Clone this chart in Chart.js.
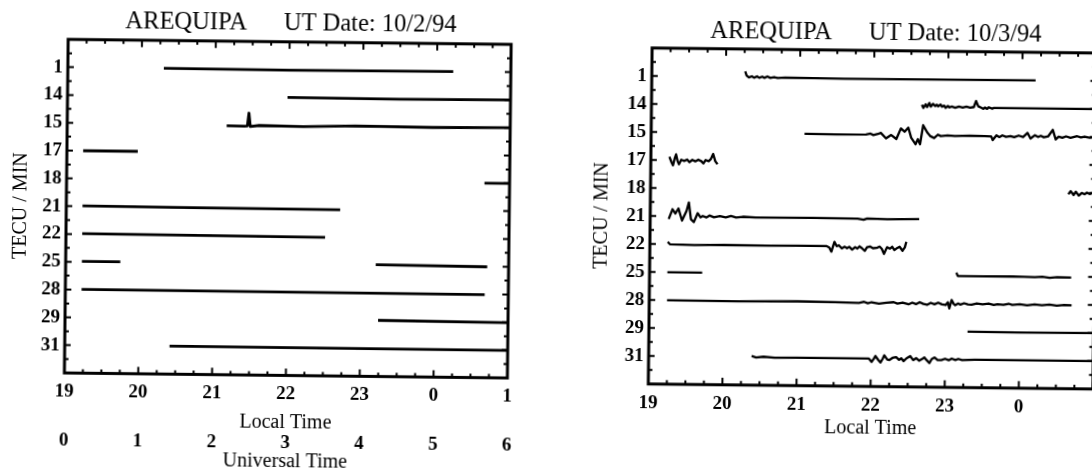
<!DOCTYPE html>
<html>
<head>
<meta charset="utf-8">
<script src="https://cdn.jsdelivr.net/npm/chart.js@4/dist/chart.umd.min.js"></script>
<style>
html,body{margin:0;padding:0;background:#fff;overflow:hidden;width:1092px;height:468px;}
#wrap{position:absolute;left:0;top:0;width:1092px;height:468px;transform:rotate(0.65deg);transform-origin:546px 234px;}
#c1{position:absolute;left:0;top:0;}
#c2{position:absolute;left:546px;top:0;}
</style>
</head>
<body>
<div id="wrap">
<canvas id="c1" width="546" height="490"></canvas>
<canvas id="c2" width="570" height="490"></canvas>
</div>
<script>
// ---- categories / tick labels ----
const PRN_LABELS = ['1','14','15','17','18','21','22','25','28','29','31'];
const LOCAL_TICKS = [19,20,21,22,23,24,25];
const LOCAL_TICK_LABELS = ['19','20','21','22','23','0','1'];
const LOCAL_TICKS_R = [19,20,21,22,23,24];
const LOCAL_TICK_LABELS_R = ['19','20','21','22','23','0'];
const UT_TICKS = [0,1,2,3,4,5,6];
const UT_TICK_LABELS = ['0','1','2','3','4','5','6'];
const TITLE_OCT2 = 'AREQUIPA      UT Date: 10/2/94';
const TITLE_OCT3 = 'AREQUIPA      UT Date: 10/3/94';

// ---- 10/2/94 : [local time (h, 25 = 01 LT), TECU/min offset] ----
const oct2_prn1  = [[20.30,0.00],[22.0,0.02],[24.22,0.00]];
const oct2_prn14 = [[21.98,0.00],[23.5,0.02],[25.00,0.00]];
const oct2_prn15 = [[21.16,0.04],[21.40,0.05],[21.44,0.04],[21.46,-0.42],[21.48,0.06],[21.60,0.02],[22.20,0.04],[22.90,0.00],[23.95,0.02],[25.00,0.00]];
const oct2_prn17 = [[19.22,0.00],[19.96,0.00]];
const oct2_prn18 = [[24.66,0.00],[25.00,0.00]];
const oct2_prn21 = [[19.22,-0.02],[20.50,0.00],[22.71,0.02]];
const oct2_prn22 = [[19.22,-0.02],[22.51,0.02]];
const oct2_prn25 = [[19.22,-0.02],[19.74,-0.02],[19.80,null],[23.20,-0.02],[24.71,0.01]];
const oct2_prn28 = [[19.22,-0.01],[24.68,0.01]];
const oct2_prn29 = [[23.24,-0.02],[25.00,0.01]];
const oct2_prn31 = [[20.42,-0.01],[25.00,0.01]];

// ---- 10/3/94 ----
const oct3_prn1  = [[20.26,-0.20],[20.28,-0.05],[20.31,0.01],[20.35,-0.03],[20.38,0.02],[20.42,-0.03],[20.45,0.02],[20.49,-0.02],[20.52,0.02],[20.56,-0.03],[20.60,0.02],[20.65,-0.01],[20.70,0.02],[20.80,0.00],[21.60,0.02],[24.18,0.00]];
const oct3_prn14 = [[22.65,-0.08],[22.67,0.03],[22.70,-0.10],[22.72,0.00],[22.75,-0.15],[22.77,-0.02],[22.80,-0.12],[22.83,-0.04],[22.85,-0.09],[22.87,-0.03],[22.90,-0.10],[22.92,-0.02],[22.95,-0.06],[22.97,0.02],[23.00,-0.05],[23.02,0.00],[23.05,-0.03],[23.10,0.01],[23.15,-0.03],[23.20,0.00],[23.25,-0.03],[23.30,0.00],[23.35,-0.02],[23.38,-0.24],[23.41,-0.05],[23.45,0.00],[23.48,0.04],[23.50,-0.01],[23.53,0.04],[23.55,-0.02],[23.60,0.03],[23.62,0.00],[23.66,0.00],[25.00,0.00]];
const oct3_prn15 = [[21.07,0.00],[21.50,0.01],[21.90,0.00],[21.96,-0.03],[22.00,0.02],[22.06,-0.02],[22.10,-0.06],[22.17,0.13],[22.24,0.01],[22.31,0.15],[22.37,-0.23],[22.42,-0.11],[22.47,-0.26],[22.51,0.10],[22.57,0.33],[22.60,0.15],[22.63,0.33],[22.67,-0.35],[22.73,-0.08],[22.77,0.04],[22.82,0.10],[22.87,-0.02],[22.91,0.03],[23.00,0.00],[23.10,0.02],[23.30,0.00],[23.50,0.01],[23.59,0.02],[23.61,0.15],[23.66,-0.02],[23.70,0.04],[23.74,-0.02],[23.79,0.03],[23.85,0.00],[23.90,0.04],[23.96,-0.02],[24.02,0.03],[24.08,-0.12],[24.12,0.08],[24.18,-0.04],[24.22,0.02],[24.26,-0.02],[24.30,0.03],[24.36,-0.01],[24.42,-0.24],[24.46,0.10],[24.50,0.00],[24.55,0.04],[24.60,-0.01],[24.66,0.04],[24.75,-0.02],[24.80,0.02],[24.85,-0.01],[24.92,0.03],[25.00,0.00]];
const oct3_prn17 = [[19.25,-0.12],[19.28,0.08],[19.30,0.18],[19.32,-0.05],[19.34,-0.21],[19.36,0.02],[19.38,0.14],[19.41,-0.02],[19.45,0.02],[19.49,-0.03],[19.52,0.06],[19.56,-0.02],[19.60,0.03],[19.64,-0.03],[19.68,0.02],[19.71,0.10],[19.74,-0.02],[19.78,0.02],[19.81,-0.06],[19.84,-0.24],[19.87,0.02],[19.90,0.12]];
const oct3_prn18 = [[24.64,0.06],[24.67,-0.06],[24.71,0.08],[24.74,-0.04],[24.78,0.10],[24.82,0.00],[24.86,0.05],[24.89,-0.01],[24.93,0.04],[24.96,0.00],[25.00,0.02]];
const oct3_prn21 = [[19.25,0.10],[19.30,-0.25],[19.34,-0.10],[19.38,-0.28],[19.43,0.15],[19.49,-0.20],[19.52,-0.50],[19.55,0.10],[19.59,0.20],[19.64,-0.12],[19.68,0.03],[19.71,-0.02],[19.76,0.03],[19.80,-0.04],[19.86,0.02],[19.94,-0.02],[20.02,0.02],[20.09,-0.03],[20.16,0.02],[20.25,-0.01],[20.42,0.01],[21.20,0.00],[21.80,0.01],[21.88,0.05],[21.93,0.00],[22.20,0.02],[22.63,0.00]];
const oct3_prn22 = [[19.24,-0.08],[19.27,0.00],[19.60,0.02],[20.00,0.00],[20.60,0.01],[21.00,0.00],[21.38,0.00],[21.42,0.05],[21.45,0.20],[21.49,-0.15],[21.52,0.00],[21.55,-0.03],[21.59,0.08],[21.63,0.02],[21.66,0.07],[21.69,0.02],[21.73,0.12],[21.77,0.03],[21.80,0.08],[21.83,0.00],[21.86,0.06],[21.90,0.16],[21.93,0.03],[21.97,0.00],[22.01,0.06],[22.06,0.05],[22.10,0.00],[22.13,0.08],[22.16,0.26],[22.20,0.02],[22.24,0.07],[22.27,0.00],[22.30,0.12],[22.34,0.04],[22.37,0.00],[22.41,0.14],[22.44,0.02],[22.46,-0.18]];
const oct3_prn25 = [[19.24,0.00],[19.71,0.00],[19.80,null],[23.14,-0.10],[23.16,0.02],[23.50,0.02],[23.90,0.01],[24.20,0.03],[24.30,0.01],[24.40,0.05],[24.50,0.02],[24.69,0.03]];
const oct3_prn28 = [[19.24,0.00],[20.20,0.01],[21.00,-0.01],[21.50,0.00],[21.83,0.02],[21.90,-0.02],[21.95,0.03],[22.00,-0.01],[22.10,0.04],[22.20,0.00],[22.30,-0.02],[22.35,0.03],[22.42,-0.01],[22.50,0.05],[22.55,-0.01],[22.60,0.04],[22.65,-0.03],[22.70,0.03],[22.75,0.06],[22.80,-0.01],[22.85,0.04],[22.90,-0.02],[22.95,0.04],[23.00,0.06],[23.03,-0.04],[23.05,0.18],[23.08,-0.12],[23.11,0.02],[23.13,0.06],[23.17,0.00],[23.20,0.04],[23.25,-0.01],[23.30,0.03],[23.35,0.04],[23.42,-0.01],[23.50,0.02],[23.58,-0.01],[23.65,0.04],[23.70,0.01],[23.78,0.03],[23.85,-0.01],[23.90,0.03],[24.00,0.00],[24.10,0.04],[24.20,0.00],[24.30,0.03],[24.40,0.00],[24.50,0.04],[24.60,0.01],[24.70,0.02]];
const oct3_prn29 = [[23.30,0.00],[24.00,0.01],[25.00,0.00]];
const oct3_prn31 = [[20.39,-0.04],[20.45,0.01],[20.55,-0.02],[20.70,0.01],[21.00,0.00],[21.50,0.00],[21.97,0.00],[22.01,0.12],[22.04,0.00],[22.06,-0.09],[22.10,0.05],[22.13,0.14],[22.16,0.00],[22.18,-0.12],[22.22,0.03],[22.25,0.05],[22.29,-0.03],[22.34,-0.06],[22.38,0.04],[22.41,-0.02],[22.44,0.08],[22.48,-0.02],[22.53,-0.10],[22.57,0.04],[22.61,-0.03],[22.65,0.06],[22.69,0.00],[22.72,-0.06],[22.75,0.03],[22.79,0.14],[22.82,0.00],[22.86,-0.06],[22.90,0.03],[22.95,0.03],[23.00,-0.02],[23.05,0.03],[23.09,-0.03],[23.14,0.02],[23.18,-0.02],[23.23,0.02],[23.40,0.00],[25.00,0.00]];

const OCT2_TRACKS = [['1',oct2_prn1],['14',oct2_prn14],['15',oct2_prn15],['17',oct2_prn17],['18',oct2_prn18],['21',oct2_prn21],['22',oct2_prn22],['25',oct2_prn25],['28',oct2_prn28],['29',oct2_prn29],['31',oct2_prn31]];
const OCT3_TRACKS = [['1',oct3_prn1],['14',oct3_prn14],['15',oct3_prn15],['17',oct3_prn17],['18',oct3_prn18],['21',oct3_prn21],['22',oct3_prn22],['25',oct3_prn25],['28',oct3_prn28],['29',oct3_prn29],['31',oct3_prn31]];

// ---- rendering ----
const SERIF = "'Liberation Serif','Times New Roman',serif";
Chart.defaults.font.family = SERIF;
Chart.defaults.color = '#000';

const framePlugin = {
  id: 'frame',
  afterDraw(chart) {
    const {ctx, chartArea: a, scales} = chart;
    const x = scales.x, y = scales.y;
    ctx.save();
    ctx.beginPath();
    ctx.rect(a.left - 2, a.top - 2, a.right - a.left + 4, a.bottom - a.top + 4);
    ctx.clip();
    ctx.strokeStyle = '#000';
    ctx.lineWidth = 2;
    ctx.beginPath();
    for (let q = x.min * 4; q <= x.max * 4; q++) {
      const px = x.getPixelForValue(q / 4);
      const len = q % 4 === 0 ? 7 : 4;
      ctx.moveTo(px, a.bottom); ctx.lineTo(px, a.bottom - len);
      ctx.moveTo(px, a.top); ctx.lineTo(px, a.top + len);
    }
    for (let k = -1; k <= 21; k++) {
      const py = y.getPixelForValue(k / 2);
      const len = k % 2 === 0 ? 6 : 4;
      ctx.moveTo(a.left, py); ctx.lineTo(a.left + len, py);
      ctx.moveTo(a.right, py); ctx.lineTo(a.right - len, py);
    }
    ctx.stroke();
    ctx.restore();
    ctx.save();
    ctx.strokeStyle = '#000';
    ctx.lineWidth = 3;
    ctx.strokeRect(a.left, a.top, a.right - a.left, a.bottom - a.top);
    ctx.restore();
  }
};

const titlePlugin = {
  id: 'panelTitle',
  afterDraw(chart, args, o) {
    const ctx = chart.ctx;
    ctx.save();
    ctx.font = "24.5px " + SERIF;
    ctx.fillStyle = '#000';
    ctx.textAlign = 'center';
    ctx.textBaseline = 'middle';
    ctx.fillText(o.text, o.x, o.y);
    ctx.restore();
  }
};

function makePanel(id, p) {
  const tickFont = {size: 19, weight: 'bold', lineHeight: 1};
  const scales = {
    x: {
      type: 'linear', position: 'bottom', min: 19, max: 25,
      afterBuildTicks: s => { s.ticks = p.xTicks.map(v => ({value: v})); },
      ticks: {callback: (v, i) => p.xLabels[i], font: tickFont, padding: p.xPad, maxRotation: 0, autoSkip: false},
      grid: {display: false, drawTicks: false},
      border: {display: false},
      title: {display: true, text: 'Local Time', font: {size: 20, lineHeight: 1}, padding: 0},
      afterFit: s => { s.height = p.xH; }
    },
    y: {
      type: 'linear', position: 'left', reverse: true, min: -1, max: 11,
      afterBuildTicks: s => { s.ticks = PRN_LABELS.map((_, i) => ({value: i})); },
      ticks: {callback: (v, i) => PRN_LABELS[i], font: tickFont, padding: 5, autoSkip: false},
      grid: {display: false, drawTicks: false},
      border: {display: false},
      title: {display: true, text: 'TECU / MIN', font: {size: 20, lineHeight: 1}, padding: {top: p.yTitlePad, bottom: 0}},
      afterFit: s => { s.width = p.yW; }
    }
  };
  if (p.ut) {
    scales.xu = {
      type: 'linear', position: 'bottom', min: 0, max: 6,
      afterBuildTicks: s => { s.ticks = UT_TICKS.map(v => ({value: v})); },
      ticks: {callback: (v, i) => UT_TICK_LABELS[i], font: tickFont, padding: 0.9, maxRotation: 0, autoSkip: false},
      grid: {display: false, drawTicks: false},
      border: {display: false},
      title: {display: true, text: 'Universal Time', font: {size: 20, lineHeight: 1}, padding: 0},
      afterFit: s => { s.height = 39.4; }
    };
  }
  return new Chart(document.getElementById(id), {
    type: 'line',
    data: {
      datasets: p.tracks.map(([prn, tr]) => ({
        label: 'PRN ' + prn,
        data: tr.map(([t, v]) => ({x: t, y: v === null ? null : PRN_LABELS.indexOf(prn) + v})),
        borderColor: '#000', borderWidth: p.lw, pointRadius: 0, tension: 0,
        fill: false, spanGaps: false, borderJoinStyle: 'round', xAxisID: 'x', yAxisID: 'y'
      }))
    },
    options: {
      responsive: false, animation: false, devicePixelRatio: 1,
      layout: {padding: p.pad},
      plugins: {legend: {display: false}, tooltip: {enabled: false}, title: {display: false},
        panelTitle: {text: p.title, x: p.tx, y: p.ty}},
      scales
    },
    plugins: [framePlugin, titlePlugin]
  });
}

makePanel('c1', {
  tracks: OCT2_TRACKS, title: TITLE_OCT2, tx: 288.7, ty: 26.7,
  xTicks: LOCAL_TICKS, xLabels: LOCAL_TICK_LABELS, xPad: 9.5, xH: 57.2,
  yW: 66, yTitlePad: 11, ut: true, lw: 2.8,
  pad: {left: 0, top: 44.8, right: 37, bottom: 15}
});
makePanel('c2', {
  tracks: OCT3_TRACKS, title: TITLE_OCT3, tx: 327.7, ty: 29.1,
  xTicks: LOCAL_TICKS_R, xLabels: LOCAL_TICK_LABELS_R, xPad: 10, xH: 52.2,
  yW: 104, yTitlePad: 46, ut: false, lw: 2.3,
  pad: {left: 0, top: 46.8, right: 21.4, bottom: 55}
});
</script>
</body>
</html>
